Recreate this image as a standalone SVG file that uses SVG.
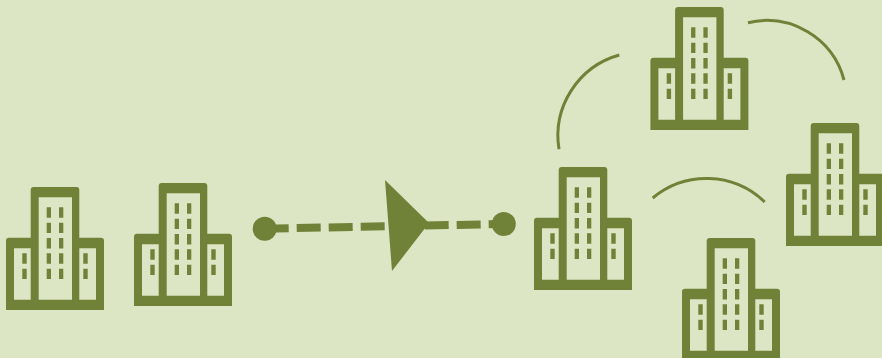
<svg xmlns="http://www.w3.org/2000/svg" width="882" height="358" viewBox="0 0 882 358">
<style>
.b{fill:#6f8237;fill-rule:evenodd}
.arc{fill:none;stroke:#6f8237;stroke-width:3}
.flow{fill:none;stroke:#6f8237;stroke-width:8;stroke-dasharray:24 8}
.f{fill:#6f8237}
</style>
<defs>
<symbol id="bldg" width="98" height="123" viewBox="0 0 98 123" overflow="visible">
<path class="b" d="M24.7 3a3 3 0 0 1 3-3H70.300a3 3 0 0 1 3 3V50.700H95a3 3 0 0 1 3 3V123H0V53.700a3 3 0 0 1 3-3H24.700ZM32.700 10.300V112.700H66V10.300ZM8 61.300V112.700H24.700V61.300ZM73.300 61.300V112.700H90V61.300Z
M40.700 20.300h4.300v10.400h-4.300ZM53 20.300h4.300v10.400h-4.300Z
M40.700 35.700h4.300v10.400h-4.300ZM53 35.700h4.300v10.400h-4.300Z
M40.700 51h4.300v10.400h-4.300ZM53 51h4.300v10.400h-4.300Z
M40.700 66.300h4.300v10.400h-4.300ZM53 66.300h4.300v10.400h-4.300Z
M40.700 81.700h4.300v10.400h-4.300ZM53 81.700h4.300v10.400h-4.300Z
M16.300 66.300h4.400v10.400h-4.400ZM77.300 66.300h4.400v10.400h-4.400Z
M16.300 81.700h4.400v10.400h-4.400ZM77.300 81.700h4.400v10.400h-4.400Z"/>
</symbol>
</defs>
<rect id="background" width="882" height="358" fill="#dde6c4"/>
<g id="connectors">
<path class="flow" d="M264.700 228.700L503.800 224"/>
<path class="arc" d="M619.300 55A84 84 0 0 0 559 149.300"/>
<path class="arc" d="M748 22.700A80 80 0 0 1 844 80"/>
<path class="arc" d="M652.700 198A84 84 0 0 1 764.700 202"/>
</g>
<g id="start-dot"><circle class="f" cx="264.700" cy="228.700" r="12"/></g>
<g id="end-dot"><circle class="f" cx="503.800" cy="224" r="12"/></g>
<g id="arrowhead"><polygon class="f" points="385,180 429,223 392,271"/></g>
<g id="building-1"><use href="#bldg" x="6" y="187"/></g>
<g id="building-2"><use href="#bldg" x="134" y="183"/></g>
<g id="building-3"><use href="#bldg" x="534" y="167"/></g>
<g id="building-4"><use href="#bldg" x="650.400" y="7"/></g>
<g id="building-5"><use href="#bldg" x="786" y="123"/></g>
<g id="building-6"><use href="#bldg" x="682" y="238"/></g>
</svg>
